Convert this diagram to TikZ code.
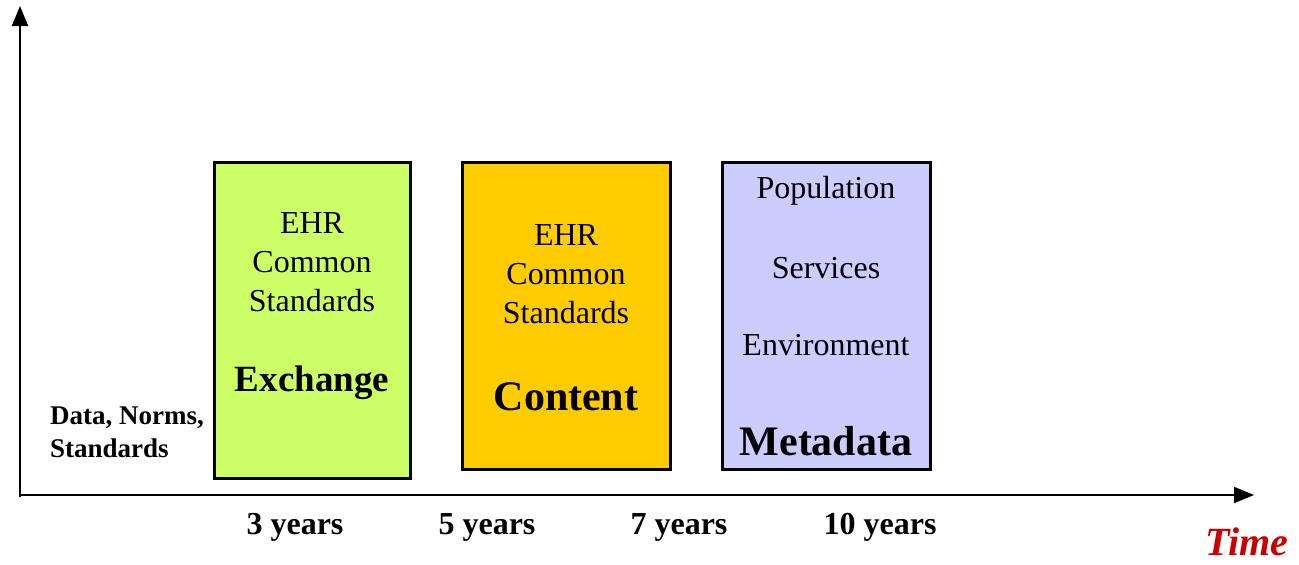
\documentclass[tikz,border=0pt]{standalone}
\usepackage{fontspec}
\setmainfont{Liberation Serif}
\usetikzlibrary{arrows.meta}

\definecolor{exgreen}{HTML}{CCFF66}
\definecolor{ctorange}{HTML}{FFCC00}
\definecolor{mdlilac}{HTML}{CCCCFF}
\definecolor{timered}{HTML}{CC0000}

\tikzset{
  axis/.style={line width=1pt, -{Triangle[length=10pt,width=8pt]}},
  phase/.style={draw, line width=1.5pt, inner sep=0pt},
  body/.style={font=\fontsize{16}{19.5}\selectfont, align=center},
  title/.style={font=\bfseries\fontsize{21}{24}\selectfont},
  tick/.style={font=\bfseries\fontsize{16}{19}\selectfont}
}

\begin{document}
\begin{tikzpicture}[x=0.5pt, y=-0.5pt]
        \useasboundingbox (0,0) rectangle (1299,564);

        % axes
        \coordinate (origin) at (20,495);
        \coordinate (ytip) at (20,6);
        \coordinate (xtip) at (1254,495);
        \draw[axis] (20,497) -- (ytip);
        \draw[axis] (origin) -- (xtip);

        \node[font=\bfseries\fontsize{13.5}{16.5}\selectfont, align=left, anchor=west] (dns) at (43,432) {Data, Norms,\\Standards};

        % the three phases
        \node[phase, fill=exgreen, minimum width=98pt, minimum height=158pt] (exbox) at (312,320) {};
        \node[phase, fill=ctorange, minimum width=104pt, minimum height=153.5pt] (ctbox) at (566,315.5) {};
        \node[phase, fill=mdlilac, minimum width=104pt, minimum height=153.5pt] (mdbox) at (826,315.5) {};

        \node[body] (exehr) at (312,262) {EHR\\Common\\Standards};
        \node[title, font=\bfseries\fontsize{18.5}{22}\selectfont] (exname) at (312,383) {Exchange};

        \node[body] (ctehr) at (566,274) {EHR\\Common\\Standards};
        \node[title] (ctname) at (566,397) {Content};

        \node[body] (mdpop) at (826,191) {Population};
        \node[body] (mdsrv) at (826,268) {Services};
        \node[body] (mdenv) at (826,345) {Environment};
        \node[title] (mdname) at (826,441) {Metadata};

        % time scale
        \node[tick] (y3) at (295,527) {3 years};
        \node[tick] (y5) at (487,527) {5 years};
        \node[tick] (y7) at (679,527) {7 years};
        \node[tick] (y10) at (880,527) {10 years};
        \node[font=\bfseries\itshape\fontsize{20}{24}\selectfont, text=timered, inner sep=0pt] (time) at (1247,542) {Time};
    \end{tikzpicture}
\end{document}
